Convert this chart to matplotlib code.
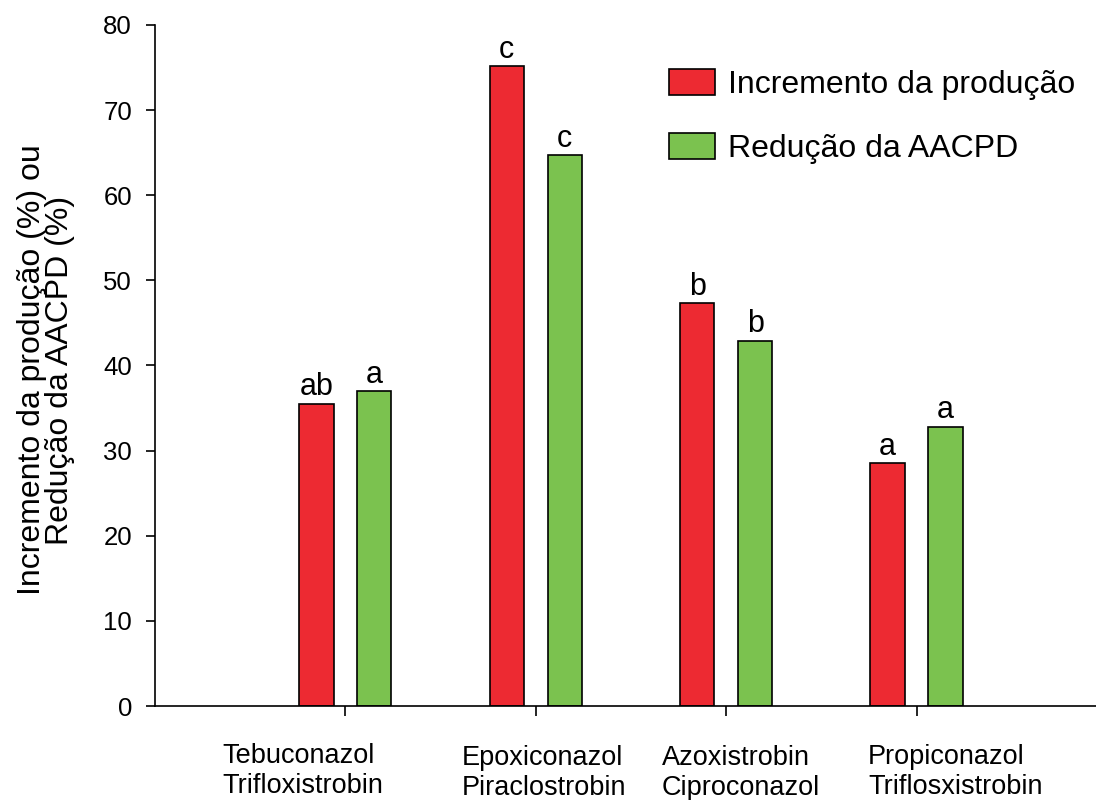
import matplotlib
matplotlib.use("Agg")
import matplotlib.pyplot as plt
import numpy as np

plt.rcParams["font.family"] = ["Liberation Sans", "DejaVu Sans"]

# Data
treat_line1 = ["Tebuconazol", "Epoxiconazol", "Azoxistrobin", "Propiconazol"]
treat_line2 = ["Trifloxistrobin", "Piraclostrobin", "Ciproconazol", "Triflosxistrobin"]
incremento = [35.5, 75.2, 47.3, 28.5]
reducao = [37.0, 64.7, 42.9, 32.8]
letters_inc = ["ab", "c", "b", "a"]
letters_red = ["a", "c", "b", "a"]
series_names = ["Incremento da produção", "Redução da AACPD"]
yticks = [0, 10, 20, 30, 40, 50, 60, 70, 80]

RED = "#ED2A32"
GREEN = "#7BC24F"

W, H = 1096, 800
fig = plt.figure(figsize=(W / 100, H / 100), dpi=100)
ax = fig.add_axes([155 / W, (H - 706) / H, 1 - 155 / W + 0.01, (706 - 25) / H])

x = np.arange(1, len(incremento) + 1)
bw = 0.18
off = 0.152
b1 = ax.bar(x - off, incremento, width=bw, color=RED, edgecolor="black",
            linewidth=1.2, label=series_names[0])
b2 = ax.bar(x + off, reducao, width=bw, color=GREEN, edgecolor="black",
            linewidth=1.2, label=series_names[1])

for bars, labs, vals in ((b1, letters_inc, incremento), (b2, letters_red, reducao)):
    for rect, lab, v in zip(bars, labs, vals):
        ax.annotate(lab, (rect.get_x() + rect.get_width() / 2, v),
                    xytext=(0, 6), textcoords="offset points",
                    ha="center", va="baseline", fontsize=22)

ax.set_xlim(0, 5)
ax.set_ylim(0, 80)
ax.set_yticks(yticks)
ax.set_xticks(x)
ax.set_xticklabels([])
ax.tick_params(axis="y", direction="out", length=6.5, width=1.2, pad=10, labelsize=18.5)
ax.tick_params(axis="x", direction="out", length=7, width=1.2)
for s in ("top", "right"):
    ax.spines[s].set_visible(False)
for s in ("left", "bottom"):
    ax.spines[s].set_linewidth(1.2)

# Y axis title
fig.text(46 / W, (H - 370) / H, "Incremento da produção (%) ou\nRedução da AACPD (%)",
         rotation=90, ha="center", va="center", fontsize=23, linespacing=0.95)

# Treatment names below the axis (two lines each, left aligned)
label_left_px = [222, 462, 662, 868]
label_base1_px = [763, 765, 765, 764]
label_base2_px = [793, 795, 795, 794]
for l1, l2, lx, y1, y2 in zip(treat_line1, treat_line2, label_left_px,
                               label_base1_px, label_base2_px):
    fig.text(lx / W, (H - y1) / H, l1, ha="left", va="baseline", fontsize=19.5)
    fig.text(lx / W, (H - y2) / H, l2, ha="left", va="baseline", fontsize=19.5)

leg = ax.legend(loc="upper left", bbox_to_anchor=(669 / W, (H - 69) / H),
                bbox_transform=fig.transFigure, frameon=False, fontsize=23,
                handlelength=1.44, handleheight=0.875, handletextpad=0.4,
                labelspacing=1.03, borderpad=0, borderaxespad=0)

fig.savefig("out.png", dpi=100)
